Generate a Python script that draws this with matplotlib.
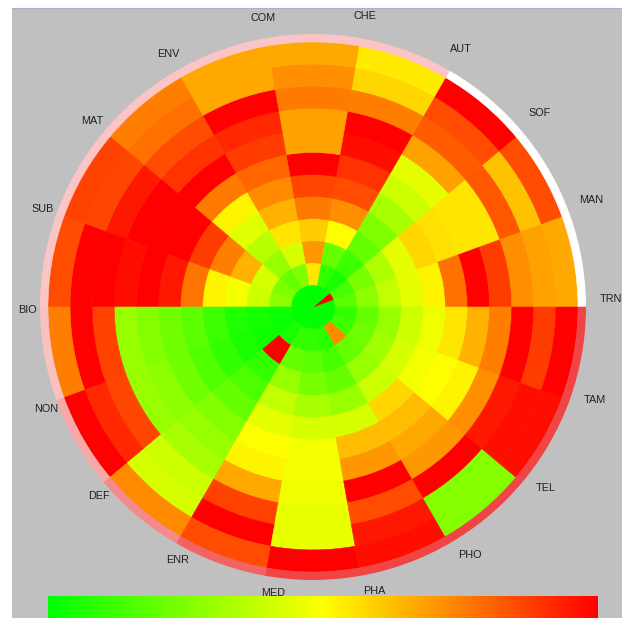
import numpy as np
import matplotlib
matplotlib.use("Agg")
import matplotlib.pyplot as plt
from matplotlib.colors import LinearSegmentedColormap, Normalize
from matplotlib.cm import ScalarMappable
from matplotlib.patches import Rectangle
from matplotlib.lines import Line2D
from matplotlib.transforms import offset_copy

# labels sit on the sector borders, counter-clockwise from 3 o'clock
labels = ["TRN", "MAN", "SOF", "AUT", "CHE", "COM", "ENV", "MAT", "SUB",
          "BIO", "NON", "DEF", "ENR", "MED", "PHA", "PHO", "TEL", "TAM"]

# one list per sector, inner ring -> outer ring (0 = green, 0.5 = yellow, 1 = red)
trn_man = [0.00, 0.18, 0.28, 0.38, 0.45, 0.52, 0.78, 1.00, 0.88, 0.72, 0.68, 0.67]
man_sof = [1.00, 0.14, 0.24, 0.34, 0.45, 0.58, 0.56, 0.55, 0.55, 0.83, 0.62, 0.85]
sof_aut = [0.00, 0.05, 0.12, 0.20, 0.25, 0.33, 0.40, 0.45, 0.68, 0.82, 0.85, 1.00]
aut_che = [0.00, 0.10, 0.20, 0.50, 0.72, 0.85, 0.90, 0.97, 1.00, 0.75, 0.58, 0.54]
che_com = [0.00, 0.55, 0.70, 0.60, 0.76, 0.86, 1.00, 0.68, 0.68, 0.76, 0.72, 0.67]
com_env = [0.00, 0.25, 0.42, 0.55, 0.65, 0.73, 0.80, 0.88, 0.92, 1.00, 0.67, 0.67]
env_mat = [0.00, 0.20, 0.30, 0.36, 0.44, 0.52, 0.76, 1.00, 0.90, 0.85, 0.78, 0.75]
mat_sub = [0.00, 0.25, 0.42, 0.65, 0.75, 0.88, 1.00, 1.00, 1.00, 0.95, 0.86, 0.87]
sub_bio = [0.00, 0.28, 0.40, 0.48, 0.52, 0.77, 0.95, 1.00, 0.97, 1.00, 1.00, 0.85]
bio_non = [0.00, 0.02, 0.04, 0.06, 0.12, 0.18, 0.22, 0.26, 0.30, 0.87, 1.00, 0.75]
non_def = [0.00, 0.02, 0.03, 0.05, 0.10, 0.16, 0.22, 0.28, 0.30, 0.86, 0.92, 1.00]
def_enr = [0.00, 0.05, 1.00, 0.10, 0.15, 0.20, 0.26, 0.30, 0.33, 0.40, 0.42, 0.73]
enr_med = [0.00, 0.10, 0.20, 0.30, 0.38, 0.45, 0.50, 0.52, 0.67, 0.87, 1.00, 0.85]
med_pha = [0.00, 0.10, 0.18, 0.24, 0.33, 0.42, 0.48, 0.48, 0.47, 0.46, 0.46, 1.00]
pha_pho = [0.00, 0.08, 0.14, 0.20, 0.30, 0.42, 0.63, 0.70, 1.00, 0.85, 0.95, 0.97]
pho_tel = [0.00, 0.73, 0.20, 0.30, 0.40, 0.58, 0.63, 0.67, 0.70, 1.00, 0.26, 0.26]
tel_tam = [0.00, 0.12, 0.22, 0.32, 0.42, 0.48, 0.50, 0.52, 0.72, 0.95, 0.97, 0.97]
tam_trn = [0.00, 0.10, 0.20, 0.30, 0.40, 0.47, 0.55, 0.65, 0.75, 1.00, 0.88, 1.00]

# outer rim level per sector (0 = white, 1 = red)
rim_level = [0.0, 0.0, 0.0, 0.3, 0.3, 0.3, 0.3, 0.3, 0.3,
             0.32, 0.45, 0.6, 0.8, 0.95, 0.95, 0.95, 0.95, 0.95]

vals = np.array([trn_man, man_sof, sof_aut, aut_che, che_com, com_env,
                 env_mat, mat_sub, sub_bio, bio_non, non_def, def_enr,
                 enr_med, med_pha, pha_pho, pho_tel, tel_tam, tam_trn])
n_sec, n_ring = vals.shape

gyr = LinearSegmentedColormap.from_list("gyr", ["#00ff00", "#ffff00", "#ff0000"])
rimmap = LinearSegmentedColormap.from_list("rim", ["#ffffff", "#f03c3c"])

fig = plt.figure(figsize=(6.22, 6.18), dpi=100)
fig.patch.set_facecolor("white")
fig.add_artist(Rectangle((12 / 622, 0), 1, 610 / 618, transform=fig.transFigure,
                         facecolor="#c0c0c0", edgecolor="none", zorder=0))
fig.add_artist(Line2D([12 / 622, 1], [610 / 618, 610 / 618], color="#b4a8d8", lw=0.8))

cax = fig.add_axes([48 / 622, 0, 550 / 622, 22 / 618])
cb = fig.colorbar(ScalarMappable(Normalize(0, 1), gyr), cax=cax, orientation="horizontal")
cb.outline.set_visible(False)
cb.set_ticks([])

ax = fig.add_axes([40 / 622, 38 / 618, 546 / 622, 546 / 618], projection="polar")
ax.set_axis_off()
ax.set_zorder(3)

r_out = 265.0
rim_w = 8.0
ring_w = r_out / n_ring
theta = np.deg2rad(np.arange(n_sec) * 20 + 10)
width = np.deg2rad(20)

for k in range(n_ring):
    c = gyr(vals[:, k])
    ax.bar(theta, ring_w, width=width, bottom=k * ring_w, color=c,
           edgecolor=c, linewidth=0.4)

rc = rimmap(np.array(rim_level))
ax.bar(theta, rim_w, width=width, bottom=r_out, color=rc, edgecolor=rc, linewidth=0.4)
ax.set_ylim(0, r_out + rim_w)

# the labels are drawn a few pixels right of / above their polar anchor
lab_tr = offset_copy(ax.transData, fig=fig, x=6, y=2.5, units="dots")
for i, lab in enumerate(labels):
    ax.text(np.deg2rad(20 * i + 1), 292, lab, transform=lab_tr, ha="center",
            va="center", fontsize=7.8, family="Liberation Sans", color="#202020")

fig.savefig("out.png", dpi=100)
